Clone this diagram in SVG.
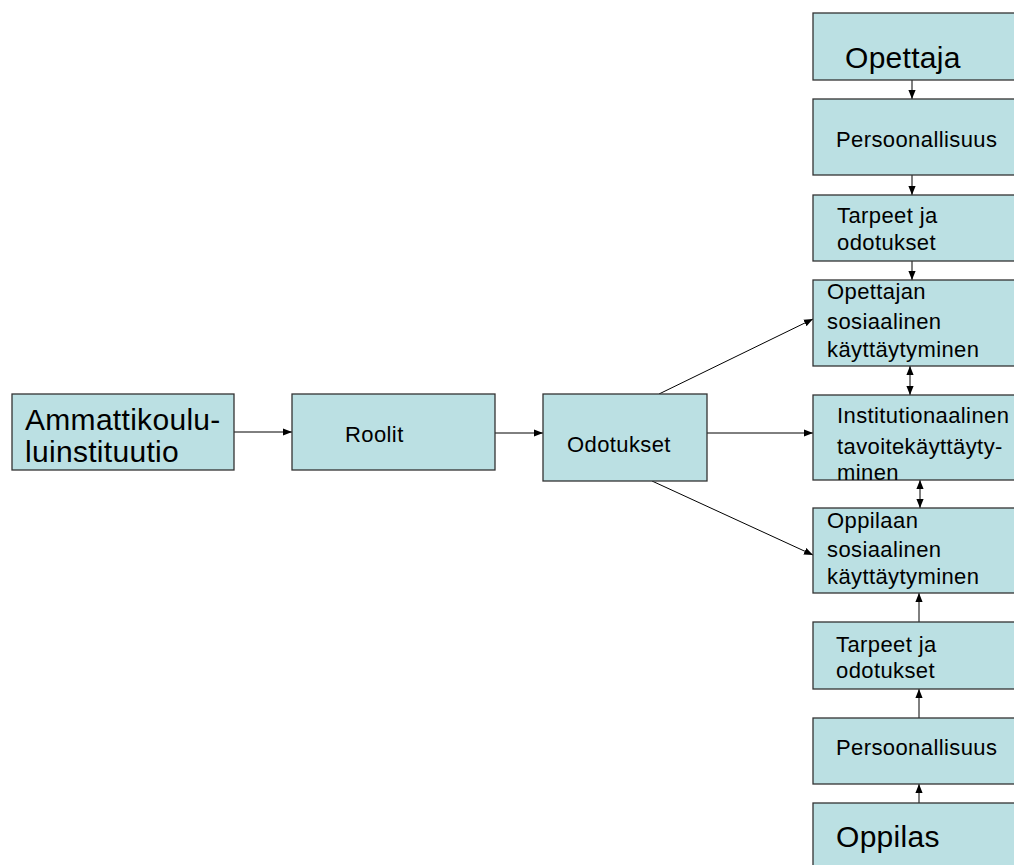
<svg xmlns="http://www.w3.org/2000/svg" width="1014" height="865" viewBox="0 0 1014 865">
<style>
.box{fill:#BBE0E3;stroke:#333;stroke-width:1.3}
.t{font-family:"Liberation Sans",Arial,sans-serif;fill:#000;font-size:22px;letter-spacing:0.4px}
.big{font-size:30px;letter-spacing:0.3px}
.c{stroke:#000;stroke-width:1;fill:none}
</style>
<defs>
<marker id="ah" viewBox="0 0 10 10" refX="10" refY="5" markerWidth="9" markerHeight="9" markerUnits="userSpaceOnUse" orient="auto-start-reverse">
<path d="M0,1 L10,5 L0,9 Z" fill="#000"/>
</marker>
</defs>
<rect width="1014" height="865" fill="#fff"/>
<g id="connectors">
<line class="c" x1="234" y1="432" x2="292" y2="432" marker-end="url(#ah)"/>
<line class="c" x1="495" y1="433" x2="543" y2="433" marker-end="url(#ah)"/>
<line class="c" x1="707" y1="433" x2="813" y2="433" marker-end="url(#ah)"/>
<line class="c" x1="659" y1="394" x2="813" y2="319" marker-end="url(#ah)"/>
<line class="c" x1="652" y1="481" x2="813" y2="555" marker-end="url(#ah)"/>
<line class="c" x1="912" y1="80" x2="912" y2="99" marker-end="url(#ah)"/>
<line class="c" x1="912" y1="175" x2="912" y2="195" marker-end="url(#ah)"/>
<line class="c" x1="912" y1="261" x2="912" y2="280" marker-end="url(#ah)"/>
<line class="c" x1="910" y1="366" x2="910" y2="395" marker-start="url(#ah)" marker-end="url(#ah)"/>
<line class="c" x1="920" y1="480" x2="920" y2="508" marker-start="url(#ah)" marker-end="url(#ah)"/>
<line class="c" x1="919" y1="622" x2="919" y2="593" marker-end="url(#ah)"/>
<line class="c" x1="919" y1="718" x2="919" y2="689" marker-end="url(#ah)"/>
<line class="c" x1="919" y1="803" x2="919" y2="784" marker-end="url(#ah)"/>
</g>
<g id="ammattikoulu">
<rect class="box" x="12" y="394" width="222" height="76"/>
<text class="t big" x="25" y="430">Ammattikoulu-</text>
<text class="t big" x="25" y="462">luinstituutio</text>
</g>
<g id="roolit">
<rect class="box" x="292" y="394" width="203" height="76"/>
<text class="t" x="345" y="442">Roolit</text>
</g>
<g id="odotukset">
<rect class="box" x="543" y="394" width="164" height="87"/>
<text class="t" x="567" y="452">Odotukset</text>
</g>
<g id="opettaja">
<rect class="box" x="813" y="13" width="210" height="67"/>
<text class="t big" x="845" y="68">Opettaja</text>
</g>
<g id="persoonallisuus1">
<rect class="box" x="813" y="99" width="210" height="76"/>
<text class="t" x="836" y="147">Persoonallisuus</text>
</g>
<g id="tarpeet1">
<rect class="box" x="813" y="195" width="210" height="66"/>
<text class="t" x="837" y="223">Tarpeet ja</text>
<text class="t" x="837" y="250">odotukset</text>
</g>
<g id="opettajan-sosiaalinen">
<rect class="box" x="813" y="280" width="210" height="86"/>
<text class="t" x="827" y="299">Opettajan</text>
<text class="t" x="827" y="329">sosiaalinen</text>
<text class="t" x="827" y="357">käyttäytyminen</text>
</g>
<g id="institutionaalinen">
<rect class="box" x="813" y="395" width="210" height="85"/>
<text class="t" x="837" y="423">Institutionaalinen</text>
<text class="t" x="837" y="454">tavoitekäyttäyty-</text>
<text class="t" x="837" y="480">minen</text>
</g>
<g id="oppilaan-sosiaalinen">
<rect class="box" x="813" y="508" width="210" height="85"/>
<text class="t" x="827" y="528">Oppilaan</text>
<text class="t" x="827" y="557">sosiaalinen</text>
<text class="t" x="827" y="584">käyttäytyminen</text>
</g>
<g id="tarpeet2">
<rect class="box" x="813" y="622" width="210" height="67"/>
<text class="t" x="836" y="652">Tarpeet ja</text>
<text class="t" x="836" y="678">odotukset</text>
</g>
<g id="persoonallisuus2">
<rect class="box" x="813" y="718" width="210" height="66"/>
<text class="t" x="836" y="755">Persoonallisuus</text>
</g>
<g id="oppilas">
<rect class="box" x="813" y="803" width="210" height="80"/>
<text class="t big" x="836" y="847">Oppilas</text>
</g>
</svg>
